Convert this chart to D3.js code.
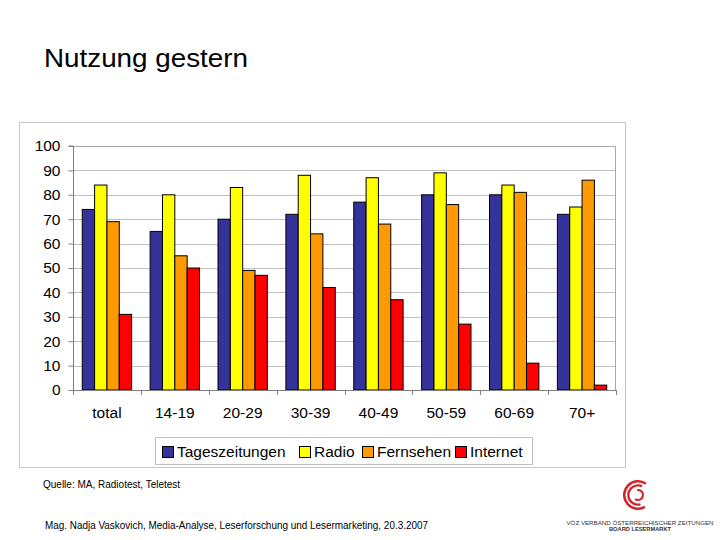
<!DOCTYPE html>
<html>
<head>
<meta charset="utf-8">
<script src="https://cdn.jsdelivr.net/npm/d3@7"></script>
<style>
  html, body { margin: 0; padding: 0; background: #fff; }
  svg { display: block; font-family: "Liberation Sans", Arial, sans-serif; }
</style>
</head>
<body>
<svg id="chart" width="720" height="540"></svg>
<script>
// ---- Data ----
const categories = ["total", "14-19", "20-29", "30-39", "40-49", "50-59", "60-69", "70+"];
const seriesNames = ["Tageszeitungen", "Radio", "Fernsehen", "Internet"];
const tageszeitungen = [74, 65, 70, 72, 77, 80, 80, 72];
const radio          = [84, 80, 83, 88, 87, 89, 84, 75];
const fernsehen      = [69, 55, 49, 64, 68, 76, 81, 86];
const internet       = [31, 50, 47, 42, 37, 27, 11, 2];
const yTicks = [0, 10, 20, 30, 40, 50, 60, 70, 80, 90, 100];
const colors = ["#333399", "#FFFF00", "#FF9900", "#FF0000"];

const seriesValues = [tageszeitungen, radio, fernsehen, internet];

const svg = d3.select("#chart");

// Title
svg.append("text")
  .attr("x", 44).attr("y", 67)
  .attr("font-size", 25)
  .attr("textLength", 204).attr("lengthAdjust", "spacingAndGlyphs")
  .attr("fill", "#000")
  .text("Nutzung gestern");

// Chart outer frame
svg.append("rect")
  .attr("x", 19.5).attr("y", 122.5).attr("width", 606).attr("height", 345)
  .attr("fill", "#fff").attr("stroke", "#c8c8c8").attr("stroke-width", 1);

// Plot geometry
const L = 73, R = 616, T = 146, B = 390;
const x = d3.scaleBand().domain(categories).range([L, R]).padding(0);
const bw = x.bandwidth();
const gap = bw * 0.75 / 5.5;
const xs = d3.scaleBand().domain(seriesNames).range([gap, bw - gap]).padding(0);
const y = d3.scaleLinear().domain([0, 100]).range([B, T]);

// Gridlines
svg.append("g").selectAll("line")
  .data(yTicks.filter(t => t > 0 && t < 100))
  .join("line")
  .attr("x1", L).attr("x2", R)
  .attr("y1", d => Math.round(y(d)) + 0.5).attr("y2", d => Math.round(y(d)) + 0.5)
  .attr("stroke", "#c0c0c0").attr("stroke-width", 1);

// Plot border top & right
svg.append("path")
  .attr("d", `M${L},${T + 0.5}H${R - 0.5}V${B}`)
  .attr("fill", "none").attr("stroke", "#a8a8a8").attr("stroke-width", 1);

// Bars
const groups = svg.append("g").selectAll("g")
  .data(categories)
  .join("g")
  .attr("transform", d => `translate(${x(d)},0)`);

groups.selectAll("rect")
  .data((c, i) => seriesNames.map((s, j) => ({ s, v: seriesValues[j][i], j })))
  .join("rect")
  .attr("x", d => xs(d.s))
  .attr("y", d => y(d.v))
  .attr("width", xs.bandwidth())
  .attr("height", d => B - y(d.v))
  .attr("fill", d => colors[d.j])
  .attr("stroke", "#000").attr("stroke-width", 1);

// Y axis
const yAxis = d3.axisLeft(y).tickValues(yTicks).tickSize(5).tickPadding(8);
const gy = svg.append("g").attr("transform", `translate(${L + 0.5},0)`).call(yAxis);
gy.select(".domain").attr("stroke", "#808080").attr("d", `M-5,${T}H0V${B}`);
gy.selectAll(".tick line").attr("stroke", "#808080");
gy.selectAll(".tick text").attr("font-size", 15.5).attr("fill", "#000")
  .attr("font-family", "'Liberation Sans', Arial, sans-serif");

// X axis line
svg.append("line")
  .attr("x1", L).attr("x2", R).attr("y1", B + 0.5).attr("y2", B + 0.5)
  .attr("stroke", "#808080");
// X category boundary ticks
const bounds = categories.map(c => x(c)).concat([R]);
svg.append("g").selectAll("line")
  .data(bounds).join("line")
  .attr("x1", d => Math.round(d) + 0.5).attr("x2", d => Math.round(d) + 0.5)
  .attr("y1", B).attr("y2", B + 5)
  .attr("stroke", "#808080");
// X labels
svg.append("g").selectAll("text")
  .data(categories).join("text")
  .attr("x", d => x(d) + bw / 2).attr("y", 418)
  .attr("text-anchor", "middle")
  .attr("font-size", 15.5).attr("fill", "#000")
  .text(d => d);

// Legend
svg.append("rect")
  .attr("x", 155.5).attr("y", 437.5).attr("width", 377).attr("height", 27)
  .attr("fill", "#fff").attr("stroke", "#c0c0c0");
const legendX = [162, 299, 362, 455];
const lg = svg.append("g").selectAll("g")
  .data(seriesNames).join("g")
  .attr("transform", (d, i) => `translate(${legendX[i]},0)`);
lg.append("rect")
  .attr("x", 0.5).attr("y", 446.5).attr("width", 11).attr("height", 11)
  .attr("fill", (d, i) => colors[i]).attr("stroke", "#000");
lg.append("text")
  .attr("x", 15).attr("y", 457)
  .attr("font-size", 15.5).attr("fill", "#000")
  .text(d => d);

// Footer
svg.append("text")
  .attr("x", 43).attr("y", 488)
  .attr("font-size", 10).attr("fill", "#000")
  .text("Quelle: MA, Radiotest, Teletest");
svg.append("text")
  .attr("x", 45).attr("y", 529)
  .attr("font-size", 10).attr("fill", "#000")
  .attr("textLength", 383).attr("lengthAdjust", "spacingAndGlyphs")
  .text("Mag. Nadja Vaskovich, Media-Analyse, Leserforschung und Lesermarketing, 20.3.2007");

// Logo
const logo = svg.append("g").attr("transform", "translate(638,495)");
const deg = Math.PI / 180;
const arcs = [
  { r0: 12.5, r1: 15, a0: 150, a1: 395 },
  { r0: 8.5, r1: 10.8, a0: 165, a1: 385 },
  { r0: 4, r1: 6, a0: -10, a1: 215 }
];
logo.selectAll("path").data(arcs).join("path")
  .attr("d", d => d3.arc()({ innerRadius: d.r0, outerRadius: d.r1, startAngle: d.a0 * deg, endAngle: d.a1 * deg }))
  .attr("fill", "#d3242b");
svg.append("text")
  .attr("x", 640).attr("y", 524.5)
  .attr("text-anchor", "middle")
  .attr("font-size", 5.2).attr("fill", "#333")
  .attr("textLength", 147).attr("lengthAdjust", "spacingAndGlyphs")
  .text("VÖZ VERBAND ÖSTERREICHISCHER ZEITUNGEN");
svg.append("text")
  .attr("x", 640).attr("y", 530.5)
  .attr("text-anchor", "middle")
  .attr("font-size", 5.2).attr("font-weight", "bold").attr("fill", "#333")
  .attr("textLength", 62).attr("lengthAdjust", "spacingAndGlyphs")
  .text("BOARD LESERMARKT");
</script>
</body>
</html>
